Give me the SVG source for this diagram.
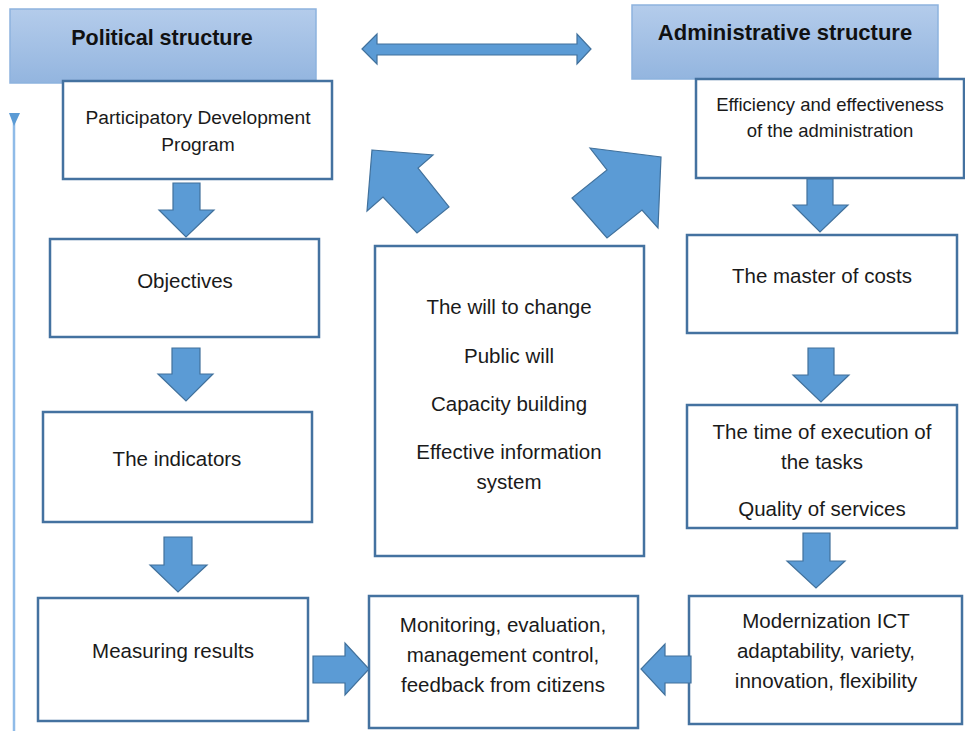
<svg xmlns="http://www.w3.org/2000/svg" width="965" height="731" viewBox="0 0 965 731">
<defs>
<linearGradient id="hdr" x1="0" y1="0" x2="0" y2="1">
<stop offset="0" stop-color="#b4cceb"/>
<stop offset="1" stop-color="#93b5df"/>
</linearGradient>
</defs>
<style>
.hdr{fill:url(#hdr);stroke:#8db3de;stroke-width:1.5}
.box{fill:#ffffff;stroke:#4472a0;stroke-width:2.5}
.arr{fill:#5b9bd5;stroke:#41719c;stroke-width:1.2;stroke-linejoin:miter}
.ht{font-family:"Liberation Sans",Arial,sans-serif;font-weight:bold;font-size:21.5px;fill:#111;text-anchor:middle}
.t{font-family:"Liberation Sans",Arial,sans-serif;font-size:20.5px;fill:#1a1a1a;text-anchor:middle}
.ts{font-family:"Liberation Sans",Arial,sans-serif;font-size:18.5px;fill:#1a1a1a;text-anchor:middle}
</style>
<rect width="965" height="731" fill="#ffffff"/>

<g id="feedback-line">
<line x1="14" y1="122" x2="14" y2="731" stroke="#8fbbe8" stroke-width="2.5"/>
<polygon points="9,113 20,113 14,126" fill="#5b9bd5"/>
<polygon points="958,141 966,141 963,132" fill="#5b9bd5"/>
</g>

<g id="political-structure">
<rect class="hdr" x="10" y="9" width="306" height="74"/>
<text class="ht" x="162" y="45">Political structure</text>
</g>
<g id="administrative-structure">
<rect class="hdr" x="632" y="5" width="306" height="74"/>
<text class="ht" x="785" y="40" style="font-size:22px">Administrative structure</text>
</g>

<g id="participatory">
<rect class="box" x="63" y="81" width="269" height="98"/>
<text class="ts" x="198" y="124" style="font-size:19.2px">Participatory Development</text>
<text class="ts" x="198" y="151" style="font-size:19.2px">Program</text>
</g>
<g id="objectives">
<rect class="box" x="50" y="239" width="269" height="98"/>
<text class="t" x="185" y="288">Objectives</text>
</g>
<g id="indicators">
<rect class="box" x="43" y="412" width="269" height="110"/>
<text class="t" x="177" y="466">The indicators</text>
</g>
<g id="measuring">
<rect class="box" x="38" y="598" width="270" height="123"/>
<text class="t" x="173" y="658">Measuring results</text>
</g>
<g id="factors">
<rect class="box" x="375" y="246" width="269" height="310"/>
<text class="t" x="509" y="314">The will to change</text>
<text class="t" x="509" y="363">Public will</text>
<text class="t" x="509" y="411">Capacity building</text>
<text class="t" x="509" y="459">Effective information</text>
<text class="t" x="509" y="489">system</text>
</g>
<g id="monitoring">
<rect class="box" x="369" y="596" width="269" height="132"/>
<text class="t" x="503" y="632">Monitoring, evaluation,</text>
<text class="t" x="503" y="662">management control,</text>
<text class="t" x="503" y="692">feedback from citizens</text>
</g>
<g id="efficiency">
<rect class="box" x="696" y="79" width="268" height="99"/>
<text class="ts" x="830" y="111">Efficiency and effectiveness</text>
<text class="ts" x="830" y="137">of the administration</text>
</g>
<g id="costs">
<rect class="box" x="687" y="235" width="270" height="98"/>
<text class="t" x="822" y="283">The master of costs</text>
</g>
<g id="time">
<rect class="box" x="687" y="405" width="270" height="123"/>
<text class="t" x="822" y="439">The time of execution of</text>
<text class="t" x="822" y="469">the tasks</text>
<text class="t" x="822" y="516">Quality of services</text>
</g>
<g id="modernization">
<rect class="box" x="689" y="596" width="273" height="128"/>
<text class="t" x="826" y="628">Modernization ICT</text>
<text class="t" x="826" y="658">adaptability, variety,</text>
<text class="t" x="826" y="688">innovation, flexibility</text>
</g>

<g id="connectors">
<polygon class="arr" points="362,49 377,34 377,44 577,44 577,34 591,49 577,64 577,55 377,55 377,64"/>
<polygon class="arr" points="372,150 433,155 418,168 449,207 417,233 383,197 367,211"/>
<polygon class="arr" points="590,148 661,157 658,228 642,210 607,238 572,198 607,170"/>
<polygon class="arr" points="173,183 200,183 200,210 214,210 186,237 159,210 173,210"/>
<polygon class="arr" points="172,348 200,348 200,374 213,374 186,401 158,374 172,374"/>
<polygon class="arr" points="164,537 192,537 192,565 207,565 178,592 150,565 164,565"/>
<polygon class="arr" points="807,179 833,179 833,205 848,205 820,232 793,205 807,205"/>
<polygon class="arr" points="808,348 834,348 834,375 849,375 821,402 793,375 808,375"/>
<polygon class="arr" points="803,533 830,533 830,561 845,561 816,588 787,561 803,561"/>
<polygon class="arr" points="313,656 345,656 345,643 369,669 345,695 345,683 313,683"/>
<polygon class="arr" points="691,656 665,656 665,644 641,669 665,695 665,683 691,683"/>
</g>
</svg>
